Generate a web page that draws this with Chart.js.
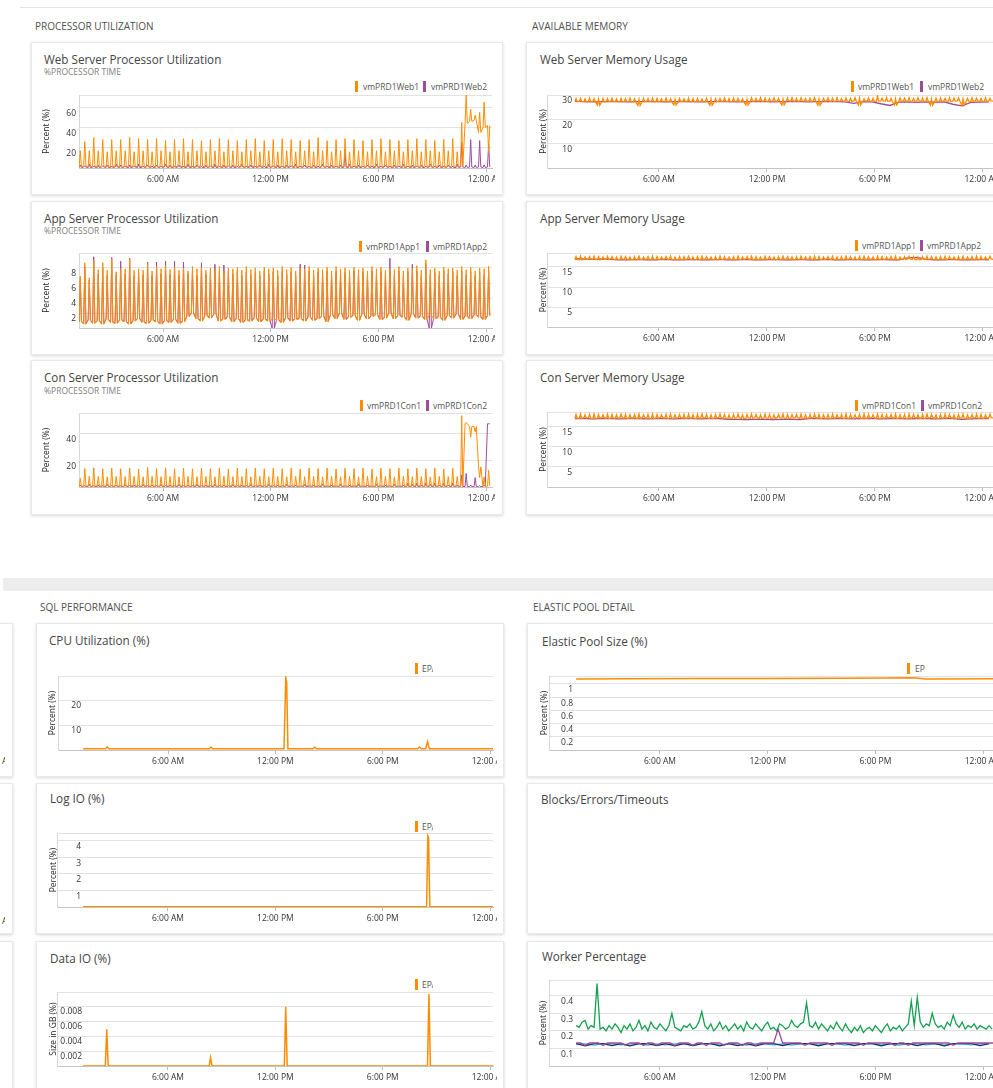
<!DOCTYPE html>
<html>
<head>
<meta charset="UTF-8">
<title>Server Dashboard</title>
<script src="https://cdn.jsdelivr.net/npm/chart.js@4.4.1/dist/chart.umd.min.js"></script>
<style>
  body { margin: 0; width: 993px; height: 1088px; overflow: hidden; position: relative; background: #fff; font-family: 'Open Sans', sans-serif; }
  .sec { position: absolute; font-size: 10px; color: #505050; line-height: 1; white-space: nowrap; }
  .card { position: absolute; background: #fff; border: 1px solid #e9e9e9; box-shadow: 0 1px 3px rgba(0,0,0,0.16); box-sizing: border-box; }
  .ttl { position: absolute; font-size: 11.7px; color: #444; line-height: 1; white-space: nowrap; }
  .sub { position: absolute; font-size: 8.5px; color: #808080; line-height: 1; white-space: nowrap; }
  .mk { position: absolute; width: 3px; height: 11px; }
  .lg { position: absolute; font-size: 8.5px; color: #555; line-height: 11px; white-space: nowrap; overflow: hidden; }
  .cv { position: absolute; overflow: hidden; }
  .clip { position: absolute; overflow: hidden; width: 5px; height: 12px; font-size: 8.5px; color: #333; line-height: 12px; }
</style>
</head>
<body>

<div style="position:absolute;left:20px;top:7px;width:980px;height:1px;background:#e3e3e3"></div>
<div style="position:absolute;left:3px;top:578px;width:995px;height:13px;background:#ededed"></div>

<div class="sec" style="left:35px;top:21px">PROCESSOR UTILIZATION</div>
<div class="sec" style="left:532px;top:21px">AVAILABLE MEMORY</div>
<div class="sec" style="left:40px;top:602px">SQL PERFORMANCE</div>
<div class="sec" style="left:533px;top:602px">ELASTIC POOL DETAIL</div>

<!-- top section cards -->
<div class="card" style="left:31px;top:42px;width:472px;height:153px"></div>
<div class="card" style="left:31px;top:201px;width:472px;height:154px"></div>
<div class="card" style="left:31px;top:360px;width:472px;height:155px"></div>
<div class="card" style="left:526px;top:42px;width:480px;height:153px"></div>
<div class="card" style="left:526px;top:201px;width:480px;height:154px"></div>
<div class="card" style="left:526px;top:360px;width:480px;height:155px"></div>

<!-- sql section cards -->
<div class="card" style="left:-460px;top:623px;width:473px;height:154px"></div>
<div class="card" style="left:-460px;top:783px;width:473px;height:151px"></div>
<div class="card" style="left:-460px;top:941px;width:473px;height:160px"></div>
<div class="clip" style="left:0;top:755px"><span style="position:absolute;left:-22px;white-space:nowrap">12:00 AM</span></div>
<div class="clip" style="left:0;top:915px"><span style="position:absolute;left:-22px;white-space:nowrap">12:00 AM</span></div>
<div class="card" style="left:36px;top:623px;width:468px;height:154px"></div>
<div class="card" style="left:36px;top:783px;width:468px;height:151px"></div>
<div class="card" style="left:36px;top:941px;width:468px;height:160px"></div>
<div class="card" style="left:527px;top:623px;width:480px;height:154px"></div>
<div class="card" style="left:527px;top:783px;width:480px;height:151px"></div>
<div class="card" style="left:527px;top:941px;width:480px;height:160px"></div>

<!-- titles -->
<div class="ttl" style="left:44px;top:54px">Web Server Processor Utilization</div>
<div class="sub" style="left:44px;top:68px">%PROCESSOR TIME</div>
<div class="ttl" style="left:44px;top:213px">App Server Processor Utilization</div>
<div class="sub" style="left:44px;top:227px">%PROCESSOR TIME</div>
<div class="ttl" style="left:44px;top:372px">Con Server Processor Utilization</div>
<div class="sub" style="left:44px;top:387px">%PROCESSOR TIME</div>
<div class="ttl" style="left:540px;top:54px">Web Server Memory Usage</div>
<div class="ttl" style="left:540px;top:213px">App Server Memory Usage</div>
<div class="ttl" style="left:540px;top:372px">Con Server Memory Usage</div>
<div class="ttl" style="left:49px;top:635px">CPU Utilization (%)</div>
<div class="ttl" style="left:50px;top:793px">Log IO (%)</div>
<div class="ttl" style="left:50px;top:953px">Data IO (%)</div>
<div class="ttl" style="left:542px;top:636px">Elastic Pool Size (%)</div>
<div class="ttl" style="left:541px;top:794px">Blocks/Errors/Timeouts</div>
<div class="ttl" style="left:542px;top:951px">Worker Percentage</div>

<!-- legends -->
<div class="mk" style="left:355px;top:81px;background:#ff8c00"></div><div class="lg" style="left:363px;top:81px">vmPRD1Web1</div>
<div class="mk" style="left:423px;top:81px;background:#9c4d9a"></div><div class="lg" style="left:431px;top:81px">vmPRD1Web2</div>
<div class="mk" style="left:359px;top:241px;background:#ff8c00"></div><div class="lg" style="left:366px;top:241px">vmPRD1App1</div>
<div class="mk" style="left:426px;top:241px;background:#9c4d9a"></div><div class="lg" style="left:433px;top:241px">vmPRD1App2</div>
<div class="mk" style="left:360px;top:400px;background:#ff8c00"></div><div class="lg" style="left:367px;top:400px">vmPRD1Con1</div>
<div class="mk" style="left:426px;top:400px;background:#9c4d9a"></div><div class="lg" style="left:433px;top:400px">vmPRD1Con2</div>
<div class="mk" style="left:851px;top:81px;background:#ff8c00"></div><div class="lg" style="left:858px;top:81px">vmPRD1Web1</div>
<div class="mk" style="left:920px;top:81px;background:#9c4d9a"></div><div class="lg" style="left:928px;top:81px">vmPRD1Web2</div>
<div class="mk" style="left:855px;top:240px;background:#ff8c00"></div><div class="lg" style="left:862px;top:240px">vmPRD1App1</div>
<div class="mk" style="left:920px;top:240px;background:#9c4d9a"></div><div class="lg" style="left:927px;top:240px">vmPRD1App2</div>
<div class="mk" style="left:855px;top:400px;background:#ff8c00"></div><div class="lg" style="left:862px;top:400px">vmPRD1Con1</div>
<div class="mk" style="left:921px;top:400px;background:#9c4d9a"></div><div class="lg" style="left:928px;top:400px">vmPRD1Con2</div>
<div class="mk" style="left:415px;top:663px;background:#ff8c00"></div><div class="lg" style="left:422px;top:663px;width:11px">EPADB01</div>
<div class="mk" style="left:415px;top:821px;background:#ff8c00"></div><div class="lg" style="left:422px;top:821px;width:11px">EPADB01</div>
<div class="mk" style="left:415px;top:979px;background:#ff8c00"></div><div class="lg" style="left:422px;top:979px;width:11px">EPADB01</div>
<div class="mk" style="left:907px;top:663px;background:#ff8c00"></div><div class="lg" style="left:915px;top:663px;width:10px">EPADB01</div>

<script>
// x axis: hours since midnight
const tickHours = [6, 12, 18, 24];
const tickLabels = ['6:00 AM', '12:00 PM', '6:00 PM', '12:00 AM'];

// counters sampled every 15 min (one low + one peak per sample)
const cpuStart = 1.33, cpuStep = 0.25;
const memStart = 1.33, memStep = 0.25, memStep2 = 0.5;
const workerStart = 1.33, workerStep = 1 / 6;

const web1Peak = [17,26,17,30,17,28,16,28,17,28, 17,30,16,29,17,28,16,29,17,27, 16,28,17,29,16,28,17,27,16,28,
  17,29,16,28,17,27,16,28,17,29, 16,27,17,28,16,29,17,28,16,27, 17,28,16,30,17,27,16,28,17,29,
  16,28,17,27,16,28,17,29,16,28, 17,27,16,28,17,29,16,28,17,27, 16,28,17,29,16,45,72,58,52,55, 65,15];
const web1Low = [1,2,1,2,1,2,1,1,2,1, 1,2,1,2,1,1,2,1,1,2, 1,1,2,1,2,1,1,2,1,1,
  2,1,1,2,1,2,1,1,2,1, 1,2,1,1,2,1,1,2,1,1, 2,1,1,2,1,1,2,1,1,2,
  1,1,2,1,1,2,1,1,2,1, 1,2,1,1,2,1,1,2,1,1, 2,1,1,2,1,2,44,46,47,35, 40,42];
const web2Peak = [3,2,4,2,3,2,3,2,4,3, 2,3,2,4,2,3,2,3,2,4, 3,2,3,2,4,2,3,2,3,2,
  4,2,3,2,3,2,4,2,3,2, 3,2,4,2,3,2,3,2,4,2, 3,2,3,2,4,2,3,2,3,16,
  4,2,3,2,3,2,4,2,3,2, 3,2,4,2,3,2,3,2,4,2, 3,2,3,2,4,25,3,28,3,27, 3,24];
const web2Low = [0.5,1,0.5,0.8,0.5,1,0.6,0.5,1,0.5, 0.8,0.5,1,0.5,0.6,1,0.5,0.8,0.5,1, 0.5,0.6,1,0.5,0.8,0.5,1,0.5,0.6,1,
  0.5,0.8,0.5,1,0.5,0.6,1,0.5,0.8,0.5, 1,0.5,0.6,1,0.5,0.8,0.5,1,0.5,0.6, 1,0.5,0.8,0.5,1,0.5,0.6,1,0.5,0.8,
  0.5,1,0.5,0.6,1,0.5,0.8,0.5,1,0.5, 0.6,1,0.5,0.8,0.5,1,0.5,0.6,1,0.5, 0.8,0.5,1,0.5,0.6,1,0.5,1,0.5,1, 0.5,1];

const app1Peak = [6.9,8.7,6.7,9.0,7.8,8.7,7.7,9.2,7.5,7.9, 7.9,9.2,7.7,7.9,7.7,8.6,7.6,8.2,7.9,8.3, 7.8,8.1,7.7,8.0,7.6,8.2,7.9,8.1,7.7,8.0,
  7.8,8.2,7.6,8.0,7.9,8.1,7.7,8.2,7.8,8.0, 7.6,8.1,7.9,8.0,7.7,8.2,7.8,8.1,7.6,8.0, 7.9,8.2,7.7,8.0,7.8,8.1,7.6,8.2,7.9,8.0,
  7.7,8.1,7.8,8.0,7.6,8.2,7.9,8.1,7.7,8.0, 7.8,8.2,7.6,8.0,7.9,8.3,7.7,9.1,7.8,8.0, 7.6,8.1,7.9,8.0,7.7,8.2,7.8,8.1,7.6,8.0, 7.9,8.2];
const app1Low = [0.8,0.5,1.0,0.6,0.9,0.5,1.1,0.7,0.6,1.0, 0.8,0.5,0.9,1.2,0.7,0.6,1.0,0.8,0.5,0.9, 0.7,1.1,0.6,0.8,1.5,1.9,1.2,0.9,1.6,1.3,
  1.8,0.9,1.1,1.4,0.8,1.2,0.7,1.0,0.9,1.3, 0.8,1.1,0.9,1.2,1.0,0.7,1.3,0.9,1.1,1.2, 0.9,1.4,1.0,1.2,1.5,0.8,1.7,1.2,1.9,1.1,
  1.4,1.6,1.0,1.8,1.2,1.5,1.7,1.1,1.3,1.9, 1.2,1.6,1.4,1.0,1.8,1.3,1.5,1.1,1.7,1.2, 1.4,1.0,1.6,1.3,1.8,1.1,1.5,1.2,1.7,1.4, 1.1,1.6];
const app2Peak = [6.5,8.2,6.4,9.5,7.2,8.0,7.0,9.4,7.1,8.9, 7.2,9.3,7.0,7.4,7.1,8.8,7.0,8.8,7.2,8.9, 7.1,8.9,7.0,8.8,7.2,7.6,7.0,8.7,7.1,7.5,
  8.5,7.6,8.4,7.5,7.2,7.6,7.0,7.5,7.1,7.4, 7.0,7.6,7.2,7.5,7.0,7.6,7.1,7.5,7.0,8.5, 8.4,7.6,7.0,7.5,7.2,7.6,7.0,7.5,7.1,7.4,
  7.0,7.6,7.2,7.5,7.0,7.6,7.1,7.5,7.0,9.3, 7.1,7.6,7.0,7.5,8.5,7.6,7.0,8.6,7.1,7.4, 7.0,7.6,7.2,7.5,7.0,7.6,7.1,7.5,7.0,7.4, 7.1,7.6];
const app2Low = [0.9,0.6,1.1,0.7,1.0,0.6,1.2,0.8,0.7,1.1, 0.9,0.6,1.0,1.3,0.8,0.7,1.1,0.9,0.6,1.0, 0.8,1.2,0.7,0.9,1.6,2.0,1.3,1.0,1.7,1.4,
  1.9,1.0,1.2,1.5,0.9,1.3,0.8,1.1,1.0,1.4, 0.9,1.2,1.0,0.0,1.1,0.8,1.4,1.0,1.2,1.3, 1.0,1.5,1.1,1.3,1.6,0.9,1.8,1.3,2.0,1.2,
  1.5,1.7,1.1,1.9,1.3,1.6,1.8,1.2,1.4,2.0, 1.3,1.7,1.5,1.1,1.9,1.4,1.6,1.2,0.0,1.3, 1.5,1.1,1.7,1.4,1.9,1.2,1.6,1.3,1.8,1.5, 1.2,1.7];

const con1Peak = [6.4,13.8,8.0,14.3,7.8,13.5,7.6,14.0,7.9,13.6, 7.7,14.2,7.8,13.4,7.6,14.5,7.9,13.7,7.7,14.3, 7.8,13.6,7.6,14.0,7.9,13.5,7.7,14.1,7.8,13.6,
  7.6,14.2,7.9,13.4,7.7,14.0,7.8,13.7,7.6,14.1, 7.9,13.5,7.7,14.0,7.8,13.6,7.6,14.2,7.9,13.4, 7.7,14.0,7.8,13.7,7.6,14.1,7.9,13.5,7.7,14.0,
  7.8,13.6,7.6,14.2,7.9,13.4,7.7,14.0,7.8,13.7, 7.6,14.1,7.9,13.5,7.7,14.0,7.8,13.6,7.6,14.2, 7.9,13.4,7.7,14.0,7.8,53,48,37,41,7.0, 7.5,12.5];
const con1Low = [0.5,0.8,0.5,0.6,0.9,0.5,0.7,0.5,0.8,0.6, 0.5,0.7,0.9,0.5,0.6,0.8,0.5,0.7,0.5,0.9, 0.6,0.5,0.8,0.7,0.5,0.6,0.9,0.5,0.7,0.8,
  0.5,0.6,0.5,0.9,0.7,0.5,0.8,0.6,0.5,0.7, 0.9,0.5,0.6,0.8,0.5,0.7,0.5,0.9,0.6,0.5, 0.8,0.7,0.5,0.6,0.9,0.5,0.7,0.8,0.5,0.6,
  0.5,0.9,0.7,0.5,0.8,0.6,0.5,0.7,0.9,0.5, 0.6,0.8,0.5,0.7,0.5,0.9,0.6,0.5,0.8,0.7, 0.6,0.5,0.8,0.5,0.7,0.5,47,45,45,15, 0.5,0.6];
const con2Peak = [1.5,1,2,1,1.5,1,2,1,1.5,1, 2,1,1.5,1,2,1,1.5,1,2,1, 1.5,1,2,1,1.5,1,2,1,1.5,1,
  2,1,1.5,1,2,1,1.5,1,2,1, 1.5,1,2,1,1.5,1,2,1,1.5,1, 2,1,1.5,1,2,1,1.5,1,2,1,
  1.5,1,2,1,1.5,1,2,1,1.5,1, 2,1,1.5,3,2,3,1.5,3,2,3, 1.5,3,1.5,3,1.5,9,10,1.5,7,1, 1.5,47];
const con2Low = [0.3,0.2,0.4,0.3,0.2,0.3,0.4,0.2,0.3,0.2, 0.4,0.3,0.2,0.3,0.4,0.2,0.3,0.2,0.4,0.3, 0.2,0.3,0.4,0.2,0.3,0.2,0.4,0.3,0.2,0.3,
  0.4,0.2,0.3,0.2,0.4,0.3,0.2,0.3,0.4,0.2, 0.3,0.2,0.4,0.3,0.2,0.3,0.4,0.2,0.3,0.2, 0.4,0.3,0.2,0.3,0.4,0.2,0.3,0.2,0.4,0.3,
  0.2,0.3,0.4,0.2,0.3,0.2,0.4,0.3,0.2,0.3, 0.4,0.2,0.3,0.2,0.4,0.3,0.2,0.3,0.4,0.2, 0.3,0.2,0.4,0.3,0.2,0.3,0.4,0.2,0.3,0.2, 0.4,47];

const webMemPeak = [28.5,28.6,28.4,28.7,28.5,28.3,28.6,28.5,28.7,28.4, 28.6,28.5,28.7,28.4,28.2,28.6,28.5,28.7,28.6,28.4,
  28.7,28.5,28.2,28.6,28.4,28.7,28.5,28.6,28.4,28.7, 28.3,28.5,28.6,28.8,28.5,28.7,28.6,28.4,28.3,28.8,
  28.6,28.9,28.7,28.5,28.8,28.6,28.3,28.7,28.9,28.6, 28.8,28.5,28.7,28.9,28.3,28.6,28.8,28.7,28.9,28.5,
  28.8,28.6,28.9,28.7,28.4,28.8,28.6,29.6,28.7,28.9, 28.6,28.4,28.8,28.7,28.9,28.6,28.8,28.7,28.9,28.4,
  28.7,28.8,28.6,28.9,28.7,28.8,28.3,28.6,28.8,28.7, 28.5,28.8,28.6,28.7];
const webMemLow = [27.3,27.4,27.2,27.3,27.4,25.8,27.2,27.3,27.4,27.3, 27.2,27.4,27.3,27.2,25.7,27.3,27.4,27.2,27.3,27.4,
  27.3,27.2,25.9,27.3,27.4,27.2,27.3,27.4,27.3,27.2, 25.8,27.3,27.4,27.5,27.3,27.4,27.5,27.3,25.9,27.4,
  27.5,27.6,27.4,27.5,27.6,27.4,25.9,27.5,27.6,27.4, 27.6,27.5,27.4,27.6,25.8,27.5,27.6,27.4,27.5,27.6,
  27.5,27.4,27.6,25.9,27.5,27.6,27.4,27.5,27.6,27.5, 27.4,25.9,27.5,27.6,27.4,27.5,27.6,27.4,27.5,25.8,
  27.4,27.5,27.6,27.4,27.5,27.6,25.8,27.5,27.4,27.6, 27.5,27.4,27.6,27.5];
const webMem2 = [27.4,27.3,27.2,27.3,27.4,27.3,27.2,27.3,27.4,27.3, 27.2,27.3,27.4,27.3,27.2,27.3,27.4,27.3,27.2,27.3,
  27.4,27.3,27.2,27.3,27.4,27.3,27.2,27.3,27.4,27.3, 27.2,26.6,27.3,27.2,26.4,25.7,27.1,27.2,27.0,27.2, 27.1,27.2,26.2,25.5,27.0,27.1,27.2];

const appMemPeak = [17.6,17.7,17.5,17.6,17.7,17.6,17.5,17.7,17.6,17.5, 17.7,17.6,17.5,17.6,17.7,17.5,17.6,17.7,17.6,17.5,
  17.6,17.7,17.5,17.6,17.6,17.7,17.5,17.6,17.7,17.6, 17.5,17.6,17.7,17.6,17.5,17.6,17.7,17.5,17.6,17.7,
  17.6,17.5,17.7,17.6,17.5,17.6,17.7,17.6,17.5,17.6, 17.7,17.5,17.6,17.7,17.6,17.5,17.6,17.7,17.5,17.6,
  17.7,17.6,17.5,17.6,17.7,17.6,17.5,17.7,17.6,17.5, 17.6,17.7,17.5,17.6,17.7,17.6,17.5,17.6,17.7,17.6,
  17.5,17.6,17.7,17.6,17.5,17.6,17.7,17.5,17.6,17.7, 17.6,17.5,17.7,17.6];
const appMemLow = [16.9,16.8,16.9,17.0,16.9,16.8,16.9,16.9,17.0,16.8, 16.9,17.0,16.9,16.8,16.9,16.9,17.0,16.8,16.9,16.9,
  17.0,16.9,16.8,16.9,16.9,17.0,16.8,16.9,16.9,17.0, 16.9,16.8,16.9,16.9,17.0,16.8,16.9,16.9,17.0,16.9,
  16.8,16.9,16.9,17.0,16.8,16.9,16.9,17.0,16.9,16.8, 16.9,16.9,17.0,16.8,16.9,16.9,17.0,16.9,16.8,16.9,
  16.9,17.0,16.8,16.9,16.9,17.0,16.9,16.8,16.9,16.9, 17.0,16.8,16.9,16.9,17.0,16.9,16.8,16.9,16.9,17.0,
  16.8,16.9,16.9,17.0,16.9,16.8,16.9,16.9,17.0,16.8, 16.9,16.9,17.0,16.9];
const appMem2 = [17.0,17.0,16.9,17.0,16.9,16.8,16.8,16.9,16.8,16.8, 16.9,16.8,16.8,16.9,16.8,16.8,16.9,16.8,16.8,16.9,
  16.8,16.8,16.9,16.8,16.8,16.9,16.8,16.8,16.9,16.8, 16.8,16.9,16.8,16.8,16.9,16.8,16.8,17.3,17.4,16.9, 16.8,16.8,16.9,16.8,16.8,16.9,16.8];

const conMemPeak = [17.9,18.0,17.8,17.9,18.0,17.9,17.8,18.0,17.9,17.8, 18.0,17.9,17.8,17.9,18.0,17.8,17.9,18.0,17.9,17.8,
  17.9,18.0,17.8,17.9,17.9,18.0,17.8,17.9,18.0,17.9, 17.8,17.9,18.0,17.9,17.8,17.9,18.0,17.8,17.9,18.0,
  17.9,17.8,18.0,17.9,17.8,17.9,18.0,17.9,17.8,17.9, 18.0,17.8,17.9,18.0,17.9,17.8,17.9,18.0,17.8,17.9,
  18.0,17.9,17.8,17.9,18.0,17.9,17.8,18.0,17.9,17.8, 17.9,18.0,17.8,17.9,18.0,17.9,17.8,17.9,18.0,17.9,
  17.8,17.9,18.0,17.9,17.8,17.9,18.0,17.8,17.9,18.0, 17.9,17.8,18.0,17.9];
const conMemLow = [17.0,16.9,17.1,17.0,16.9,17.0,17.1,16.9,17.0,17.0, 17.1,16.9,17.0,17.0,16.9,17.1,17.0,16.9,17.0,17.1,
  16.9,17.0,17.0,17.1,16.9,17.0,17.0,16.9,17.1,17.0, 16.9,17.0,17.1,17.0,16.9,17.0,17.1,16.9,17.0,17.0,
  17.1,16.9,17.0,17.0,16.9,17.1,17.0,16.9,17.0,17.1, 16.9,17.0,17.0,17.1,16.9,17.0,17.0,16.9,17.1,17.0,
  16.9,17.0,17.1,17.0,16.9,17.0,17.1,16.9,17.0,17.0, 17.1,16.9,17.0,17.0,16.9,17.1,17.0,16.9,17.0,17.1,
  16.9,17.0,17.0,17.1,16.9,17.0,17.0,16.9,17.1,17.0, 16.9,17.0,17.1,17.0];
const conMem2 = [16.9,16.9,16.8,16.9,16.9,16.8,16.9,16.9,16.8,16.9, 16.9,16.8,16.9,16.9,16.8,16.9,16.9,16.7,16.7,16.6,
  16.7,16.7,16.6,16.7,16.7,16.6,16.9,16.9,16.8,16.9, 16.9,16.8,16.9,16.9,16.8,16.9,16.9,16.8,16.9,16.9, 16.8,16.9,16.9,16.7,16.8,16.9,16.9];

// SQL counters (hour, value)
const sqlCpuHours = [1.26,2.5,2.6,2.7,8.3,8.4,8.5,12.48,12.58,12.63,12.7,14.1,14.2,14.3,19.95,20.05,20.15,20.4,20.5,20.6,24.2];
const sqlCpuValues = [0.5,0.5,1.2,0.5,0.5,1.1,0.5,0.5,29,27,0.5,0.5,1.1,0.5,0.5,1.2,0.5,0.5,3.3,0.5,0.5];
const logIoHours = [1.26,20.45,20.52,20.56,20.63,24.2];
const logIoValues = [0.02,0.02,4.3,4.2,0.02,0.02];
const dataIoHours = [1.26,2.5,2.58,2.66,8.3,8.38,8.46,12.5,12.58,12.66,20.5,20.58,20.66,24.2];
const dataIoValues = [0,0,0.0049,0,0,0.0011,0,0,0.0079,0,0,0.0096,0,0];
const poolHours = [1.33,4,8,12,16,18.5,19.9,20.3,20.8,24.8];
const poolValues = [1.076,1.078,1.081,1.084,1.087,1.09,1.093,1.09,1.075,1.077];

const workerGreen = [0.23,0.22,0.25,0.26,0.21,0.23,0.22,0.47,0.21,0.22, 0.20,0.23,0.21,0.24,0.22,0.19,0.23,0.21,0.24,0.20,
  0.22,0.26,0.21,0.23,0.20,0.25,0.22,0.21,0.24,0.22, 0.20,0.23,0.30,0.22,0.21,0.20,0.23,0.22,0.24,0.21,
  0.22,0.25,0.31,0.23,0.21,0.24,0.20,0.22,0.25,0.21, 0.23,0.20,0.22,0.24,0.21,0.23,0.20,0.25,0.22,0.21,
  0.24,0.22,0.20,0.23,0.25,0.21,0.22,0.20,0.24,0.23, 0.21,0.22,0.26,0.23,0.22,0.24,0.25,0.36,0.23,0.22,
  0.25,0.21,0.24,0.22,0.20,0.23,0.21,0.25,0.22,0.20, 0.24,0.21,0.19,0.22,0.20,0.23,0.19,0.21,0.22,0.20,
  0.23,0.21,0.19,0.22,0.24,0.20,0.22,0.21,0.23,0.20, 0.22,0.24,0.37,0.23,0.39,0.25,0.22,0.24,0.23,0.30,
  0.24,0.22,0.23,0.21,0.25,0.23,0.29,0.24,0.22,0.25, 0.21,0.23,0.22,0.24,0.21,0.23,0.22,0.21,0.23,0.21];
const workerPurple = [0.131,0.131,0.118,0.131,0.131,0.131,0.117,0.131,0.131,0.131, 0.131,0.118,0.131,0.131,0.131,0.117,0.131,0.131,0.118,0.131,
  0.131,0.131,0.117,0.131,0.131,0.131,0.118,0.131,0.131,0.117, 0.131,0.131,0.131,0.118,0.131,0.131,0.131,0.117,0.131,0.131,
  0.118,0.131,0.131,0.131,0.131,0.21,0.131,0.131,0.131,0.131, 0.131,0.118,0.131,0.131,0.131,0.131,0.131,0.117,0.131,0.131,
  0.131,0.131,0.131,0.131,0.118,0.131,0.131,0.131,0.131,0.131, 0.131,0.117,0.131,0.131,0.118,0.131,0.131,0.131,0.131,0.131,
  0.131,0.131,0.131,0.131,0.118,0.131,0.131,0.131,0.131,0.131, 0.131,0.131,0.131,0.131];
const workerNavy = [0.127,0.115,0.127,0.127,0.116,0.127,0.115,0.127,0.127,0.116, 0.127,0.115,0.127,0.116,0.127,0.127,0.115,0.127,0.116,0.127,
  0.115,0.127,0.127,0.116,0.127,0.127,0.127,0.115,0.127,0.127, 0.127,0.116,0.127,0.127,0.115,0.127,0.127,0.127,0.116,0.127,
  0.127,0.115,0.127,0.127,0.127,0.116,0.127];
const workerCyan = [0.126,0.126,0.119,0.126,0.126,0.12,0.126,0.126,0.119,0.126, 0.12,0.126,0.126,0.119,0.126,0.126,0.12,0.126,0.126,0.119,
  0.126,0.126,0.12,0.126,0.119,0.126,0.126,0.12,0.126,0.126, 0.119,0.126,0.126,0.126,0.12,0.126,0.119,0.126,0.126,0.12,
  0.126,0.119,0.126,0.126,0.12,0.126,0.126];

const ORANGE = '#ff8c00', PURPLE = '#9c4d9a', GREEN = '#15a04f', NAVY = '#1f2a63', CYAN = '#3ab8ee';
const FONT = "'Open Sans', sans-serif";
Chart.defaults.font.family = FONT;

// each sample: low at its start, narrow peak, back to low
function spikeSeries(start, step, lows, peaks) {
  const pts = [];
  for (let i = 0; i < Math.min(lows.length, peaks.length); i++) {
    const t = start + i * step;
    pts.push({x: t, y: lows[i]}, {x: t + step * 0.25, y: peaks[i]}, {x: t + step * 0.5, y: lows[i]});
  }
  return pts;
}
function stepSeries(start, step, vals) {
  return vals.map((v, i) => ({x: start + i * step, y: v}));
}
function pairSeries(hours, vals) {
  return hours.map((h, i) => ({x: h, y: vals[i]}));
}

const measure = document.createElement('canvas').getContext('2d');
measure.font = '8.5px ' + FONT;

// box = [left, top, width, height] of the canvas, plot = [left, top, right, bottom] of the chart area
function makeChart(o) {
  const wrap = document.createElement('div');
  wrap.className = 'cv';
  const [bl, bt, bw, bh] = o.box;
  wrap.style.cssText = `left:${bl}px;top:${bt}px;width:${bw}px;height:${bh}px`;
  const cv = document.createElement('canvas');
  cv.width = bw; cv.height = bh;
  wrap.appendChild(cv);
  document.body.appendChild(wrap);
  const [pl, pt, pr, pb] = o.plot;
  const yTicks = [...new Set([0, ...o.y.labels, o.y.max])];
  // labels inside the plot: right edge at o.y.inside
  const mirror = o.y.inside !== undefined;
  let pad = 3;
  if (mirror) {
    const widest = Math.max(...o.y.labels.map(v => measure.measureText(String(v)).width));
    pad = o.y.inside - pl - widest;
  }

  new Chart(cv, {
    type: 'line',
    data: {
      datasets: o.sets.map(s => ({
        data: s.data, borderColor: s.color, borderWidth: s.width || 1,
        pointRadius: 0, tension: 0, fill: false
      }))
    },
    options: {
      responsive: false,
      animation: false,
      events: [],
      layout: {padding: {left: 0, top: pt - bt, right: bl + bw - pr, bottom: 0}},
      plugins: {legend: {display: false}, tooltip: {enabled: false}},
      scales: {
        x: {
          type: 'linear', min: o.x[0], max: o.x[1],
          afterBuildTicks: a => { a.ticks = tickHours.filter(h => h <= o.x[1]).map(v => ({value: v})); },
          afterFit: a => { a.height = bt + bh - pb; a.paddingLeft = 0; a.paddingRight = 0; },
          ticks: {
            autoSkip: false, maxRotation: 0, padding: 2, color: '#333', font: {size: 8.5},
            callback: v => tickLabels[tickHours.indexOf(v)]
          },
          grid: {drawOnChartArea: false, drawTicks: true, tickLength: 4, color: '#bdbdbd'},
          border: {color: '#c4c4c4'}
        },
        y: {
          type: 'linear', min: 0, max: o.y.max,
          afterBuildTicks: a => { a.ticks = yTicks.map(v => ({value: v})); },
          afterFit: a => { a.width = pl - bl; a.paddingTop = 0; a.paddingBottom = 0; },
          ticks: {
            autoSkip: false, mirror: mirror, crossAlign: mirror ? 'far' : 'near',
            padding: pad, labelOffset: 6, color: '#333', font: {size: 8.5},
            callback: v => o.y.labels.includes(v) ? String(v) : ''
          },
          grid: {drawTicks: false, color: '#e2e2e2'},
          border: {color: '#d8d8d8'},
          title: {display: true, text: o.y.title, color: '#222', font: {size: 8.5}, padding: {top: o.y.tpad, bottom: 0}}
        }
      }
    }
  });
}

// processor utilization
makeChart({box: [31, 93, 464, 93], plot: [79, 95, 492, 168], x: [1.32, 24.33],
  y: {max: 72, labels: [20, 40, 60], tpad: 10, title: 'Percent (%)'},
  sets: [{data: spikeSeries(cpuStart, cpuStep, web1Low, web1Peak), color: ORANGE},
         {data: spikeSeries(cpuStart, cpuStep, web2Low, web2Peak), color: PURPLE}]});
makeChart({box: [31, 251, 464, 95], plot: [79, 253, 492, 328], x: [1.32, 24.33],
  y: {max: 10, labels: [2, 4, 6, 8], tpad: 10, title: 'Percent (%)'},
  sets: [{data: spikeSeries(cpuStart, cpuStep, app1Low, app1Peak), color: ORANGE},
         {data: spikeSeries(cpuStart, cpuStep, app2Low, app2Peak), color: PURPLE}]});
makeChart({box: [31, 411, 464, 94], plot: [79, 413, 492, 487], x: [1.32, 24.33],
  y: {max: 55, labels: [20, 40], tpad: 10, title: 'Percent (%)'},
  sets: [{data: spikeSeries(cpuStart, cpuStep, con1Low, con1Peak), color: ORANGE},
         {data: spikeSeries(cpuStart, cpuStep, con2Low, con2Peak), color: PURPLE}]});

// available memory
makeChart({box: [526, 93, 474, 93], plot: [547, 95, 997, 168], x: [-0.22, 24.78],
  y: {max: 30, labels: [10, 20, 30], inside: 572, tpad: 12, title: 'Percent (%)'},
  sets: [{data: spikeSeries(memStart, memStep, webMemLow, webMemPeak), color: ORANGE, width: 1.3},
         {data: stepSeries(memStart, memStep2, webMem2), color: PURPLE, width: 1.3}]});
makeChart({box: [526, 251, 474, 94], plot: [547, 253, 997, 327], x: [-0.22, 24.78],
  y: {max: 18.5, labels: [5, 10, 15], inside: 572, tpad: 12, title: 'Percent (%)'},
  sets: [{data: spikeSeries(memStart, memStep, appMemLow, appMemPeak), color: ORANGE, width: 1.3},
         {data: stepSeries(memStart, memStep2, appMem2), color: PURPLE, width: 1.3}]});
makeChart({box: [526, 410, 474, 95], plot: [547, 412, 997, 487], x: [-0.22, 24.78],
  y: {max: 18.5, labels: [5, 10, 15], inside: 572, tpad: 12, title: 'Percent (%)'},
  sets: [{data: spikeSeries(memStart, memStep, conMemLow, conMemPeak), color: ORANGE, width: 1.3},
         {data: stepSeries(memStart, memStep2, conMem2), color: PURPLE, width: 1.3}]});

// sql performance
makeChart({box: [36, 674, 461, 94], plot: [58, 676, 493, 750], x: [-0.15, 24.16],
  y: {max: 29.6, labels: [10, 20], inside: 81, tpad: 11, title: 'Percent (%)'},
  sets: [{data: pairSeries(sqlCpuHours, sqlCpuValues), color: ORANGE, width: 1.5}]});
makeChart({box: [36, 831, 461, 94], plot: [57, 833, 493, 907], x: [-0.2, 24.16],
  y: {max: 4.48, labels: [1, 2, 3, 4], inside: 81, tpad: 12, title: 'Percent (%)'},
  sets: [{data: pairSeries(logIoHours, logIoValues), color: ORANGE, width: 1.5}]});
makeChart({box: [36, 990, 461, 94], plot: [57, 992, 493, 1066], x: [-0.2, 24.16],
  y: {max: 0.00987, labels: [0.002, 0.004, 0.006, 0.008], inside: 82, tpad: 12, title: 'Size in GB (%)'},
  sets: [{data: pairSeries(dataIoHours, dataIoValues), color: ORANGE, width: 1.5}]});

// elastic pool detail
makeChart({box: [527, 674, 473, 94], plot: [549, 676, 997, 750], x: [-0.18, 24.77],
  y: {max: 1.12, labels: [0.2, 0.4, 0.6, 0.8, 1], inside: 573, tpad: 12, title: 'Percent (%)'},
  sets: [{data: pairSeries(poolHours, poolValues), color: ORANGE, width: 1.5}]});
makeChart({box: [527, 978, 473, 106], plot: [549, 980, 997, 1066], x: [-0.18, 24.77],
  y: {max: 0.49, labels: [0.1, 0.2, 0.3, 0.4], inside: 573, tpad: 11, title: 'Percent (%)'},
  sets: [{data: stepSeries(workerStart, workerStep, workerGreen), color: GREEN, width: 1.3},
         {data: stepSeries(memStart, memStep, workerPurple), color: PURPLE, width: 1.3},
         {data: stepSeries(memStart, memStep2, workerNavy), color: NAVY, width: 1.3},
         {data: stepSeries(memStart, memStep2, workerCyan), color: CYAN, width: 1.3}]});
</script>
</body>
</html>
